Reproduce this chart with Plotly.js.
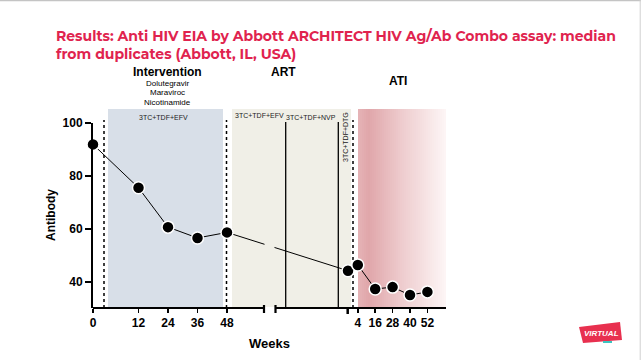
<!DOCTYPE html>
<html>
<head>
<meta charset="utf-8">
<script src="https://cdn.plot.ly/plotly-3.0.1.min.js"></script>
<style>
html,body{margin:0;padding:0;background:#fff;}
#chart{width:641px;height:360px;}
</style>
</head>
<body>
<div id="chart"></div>
<script>
// ---- data ----
const phases = ['Intervention','Intervention','Intervention','Intervention','Intervention','ART','ATI','ATI','ATI','ATI','ATI'];
const weeks = [0, 12, 24, 36, 48, null, 4, 16, 28, 40, 52];
const antibody = [91.9, 75.5, 60.6, 56.5, 58.6, 44.1, 46.3, 37.2, 37.9, 34.9, 36.1];
const interventionTicks = [0, 12, 24, 36, 48];
const atiTicks = [4, 16, 28, 40, 52];
const drugs = ['Dolutegravir', 'Maraviroc', 'Nicotinamide'];

// ---- broken-axis scale (weeks within phase -> axis units) ----
function xPos(phase, week) {
  if (phase === 'Intervention') return week === 0 ? 0 : 45.5 + (week - 12) * (88.5 / 36);
  if (phase === 'ART') return 255;
  return 259 + 1.45 * week;
}
const xs = phases.map((p, i) => xPos(p, weeks[i]));
const tickvals = interventionTicks.map(w => xPos('Intervention', w)).concat(atiTicks.map(w => xPos('ATI', w)));
const ticktext = interventionTicks.concat(atiTicks).map(String);

// ---- layout geometry helpers (pixels -> paper) ----
const L = 93, R = 195, T = 123, B = 52, W = 641, H = 360;
const PW = W - L - R, PH = H - T - B;
const px = v => (v - L) / PW;
const py = v => (H - B - v) / PH;
const ax = v => v - L; // pixel -> x axis units (1 unit = 1 px)

const shapes = [];
// Intervention box
shapes.push({type:'rect', layer:'below', xref:'x', yref:'paper', x0:ax(108), x1:ax(223), y0:py(307), y1:py(109), fillcolor:'#d8dfe8', line:{width:0}});
// ART box
shapes.push({type:'rect', layer:'below', xref:'x', yref:'paper', x0:ax(232), x1:ax(351), y0:py(307), y1:py(109), fillcolor:'#f0efe7', line:{width:0}});
// ATI gradient
const stops = [[0,[229,180,183]],[0.12,[224,166,170]],[0.5,[238,204,206]],[1,[253,246,246]]];
function gcol(t){
  for (let k=0;k<stops.length-1;k++){
    const a=stops[k], b=stops[k+1];
    if (t<=b[0]){ const f=(t-a[0])/(b[0]-a[0]); const c=a[1].map((v,j)=>Math.round(v+(b[1][j]-v)*f)); return 'rgb('+c.join(',')+')'; }
  }
  return 'rgb(253,246,246)';
}
const gx0 = 358, gx1 = 446, nS = 44;
for (let k=0;k<nS;k++){
  const a = gx0 + (gx1-gx0)*k/nS, b = gx0 + (gx1-gx0)*(k+1)/nS + 0.6;
  shapes.push({type:'rect', layer:'below', xref:'x', yref:'paper', x0:ax(a), x1:ax(Math.min(b,gx1)), y0:py(307), y1:py(109), fillcolor:gcol((k+0.5)/nS), line:{width:0}});
}
// dotted verticals
[104, 226.5, 353].forEach(v => shapes.push({type:'line', layer:'below', xref:'x', yref:'paper', x0:ax(v), x1:ax(v), y0:0, y1:py(120), line:{color:'#000', width:1.5, dash:'dot'}}));
// solid regimen-change lines in ART
[285.7, 338.3].forEach(v => shapes.push({type:'line', layer:'below', xref:'x', yref:'paper', x0:ax(v), x1:ax(v), y0:0, y1:py(122), line:{color:'#000', width:1.3}}));
// gap in data line at the axis break
shapes.push({type:'rect', layer:'above', xref:'x', yref:'y', x0:ax(264.5), x1:ax(274.5), y0:40, y1:60, fillcolor:'#f0efe7', line:{width:0}});
// broken x axis line
shapes.push({type:'line', layer:'above', xref:'x', yref:'paper', x0:0, x1:ax(264), y0:0, y1:0, line:{color:'#000', width:1.8}});
shapes.push({type:'line', layer:'above', xref:'x', yref:'paper', x0:ax(275.5), x1:ax(446), y0:0, y1:0, line:{color:'#000', width:1.8}});
// break marks
[264, 275.5].forEach(v => shapes.push({type:'line', layer:'above', xref:'x', yref:'paper', x0:ax(v), x1:ax(v), y0:py(313), y1:py(305), line:{color:'#000', width:2.2}}));
shapes.push({type:'line', layer:'above', xref:'x', yref:'paper', x0:ax(347.7), x1:ax(347.7), y0:0, y1:py(314), line:{color:'#000', width:2.5}});
// slide frame
shapes.push({type:'line', xref:'paper', yref:'paper', x0:px(0), x1:px(641), y0:py(0.5), y1:py(0.5), line:{color:'#c4c4c4', width:1.5}});
shapes.push({type:'line', xref:'paper', yref:'paper', x0:px(640.2), x1:px(640.2), y0:py(0), y1:py(360), line:{color:'#d0d0d0', width:1}});
// logo blob
shapes.push({type:'path', xref:'paper', yref:'paper', fillcolor:'#e8304f', line:{width:0},
  path:'M '+px(579)+','+py(327)+' L '+px(620)+','+py(322)+' L '+px(622)+','+py(340)+' L '+px(583)+','+py(343)+' Z'});
shapes.push({type:'rect', xref:'paper', yref:'paper', fillcolor:'#3cc4c0', line:{width:0}, x0:px(603), x1:px(612), y0:py(343), y1:py(341)});

const af = 'Arial, "Liberation Sans", sans-serif';
function ann(text, x, y, size, extra) {
  return Object.assign({text:text, x:px(x), y:py(y), xref:'paper', yref:'paper', xanchor:'center', yanchor:'middle', showarrow:false, font:{family:af, size:size, color:'#000'}}, extra || {});
}
const annotations = [
  ann('<b>Intervention</b>', 167, 72, 12),
  ann('<b>ART</b>', 283, 72, 12),
  ann('<b>ATI</b>', 398, 81, 12),
  ann('3TC+TDF+EFV', 163, 117, 7, {font:{family:af, size:7, color:'#222'}}),
  ann('3TC+TDF+EFV', 259, 115, 7, {font:{family:af, size:7, color:'#222'}}),
  ann('3TC+TDF+NVP', 311, 117.5, 7, {font:{family:af, size:7, color:'#222'}}),
  ann('3TC+TDF+DTG', 345.5, 137.5, 7, {textangle:-90, font:{family:af, size:7, color:'#222'}}),
  ann('<b>Antibody</b>', 51, 215, 12, {textangle:-90}),
  ann('<b>Weeks</b>', 269.5, 343, 13),
  ann('<b><i>VIRTUAL</i></b>', 601, 333, 8, {font:{family:af, size:8, color:'#fff'}})
];
drugs.forEach((d, i) => annotations.push(ann(d, 167, 83 + i * 9.5, 8)));

const trace = {
  x: xs, y: antibody, type:'scatter', mode:'lines+markers', cliponaxis:false,
  line:{color:'#000', width:1},
  marker:{color:'#000', size:12, line:{color:'#fff', width:1.5}},
  hoverinfo:'skip'
};

const layout = {
  width: W, height: H,
  margin:{l:L, r:R, t:T, b:B, pad:0},
  paper_bgcolor:'#fff', plot_bgcolor:'rgba(0,0,0,0)',
  showlegend:false,
  title:{
    text:'Results: Anti HIV EIA by Abbott ARCHITECT HIV Ag/Ab Combo assay: median<br>from duplicates (Abbott, IL, USA)',
    xref:'container', yref:'container', x:56/W, xanchor:'left', y:1-40.5/H, yanchor:'middle',
    font:{family:'Montserrat, "Open Sans", sans-serif', size:14, weight:700, color:'#e0234e'}
  },
  xaxis:{
    range:[0, PW], showgrid:false, zeroline:false, showline:false,
    tickmode:'array', tickvals:tickvals, ticktext:ticktext,
    ticks:'outside', ticklen:4, tickwidth:1.5, tickcolor:'#000',
    tickfont:{family:af, size:12, color:'#000', weight:700}, fixedrange:true
  },
  yaxis:{
    range:[30, 100], showgrid:false, zeroline:false, showline:true, linecolor:'#000', linewidth:2,
    tickmode:'array', tickvals:[40,60,80,100], ticks:'outside', ticklen:6, tickwidth:2, tickcolor:'#000',
    tickfont:{family:af, size:12, color:'#000', weight:700}, fixedrange:true
  },
  shapes: shapes,
  annotations: annotations
};

Plotly.newPlot('chart', [trace], layout, {staticPlot:true, displayModeBar:false});
</script>
</body>
</html>
